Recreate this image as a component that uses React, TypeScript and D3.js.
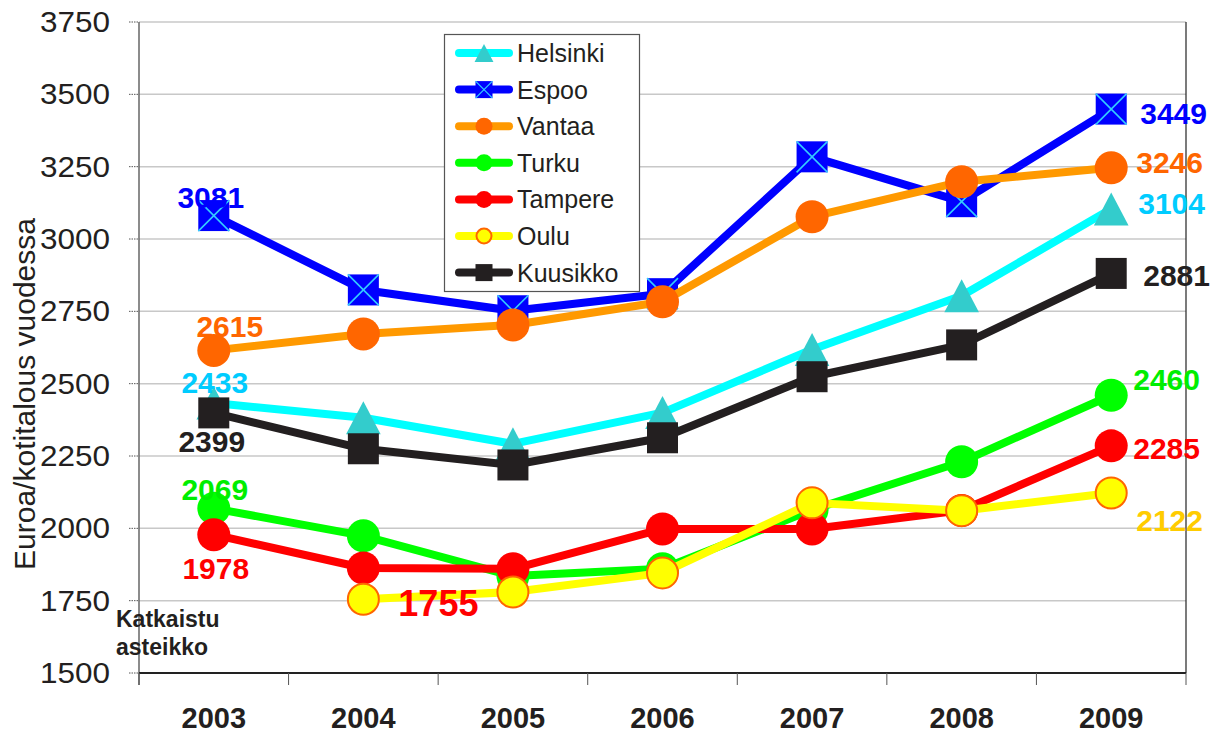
import React from 'react';
import * as d3 from 'd3';

const years = ['2003', '2004', '2005', '2006', '2007', '2008', '2009'];
const yTicks = [1500, 1750, 2000, 2250, 2500, 2750, 3000, 3250, 3500, 3750];

const helsinki = [2433, 2382, 2292, 2400, 2618, 2804, 3104];
const espoo = [3081, 2824, 2752, 2811, 3284, 3129, 3449];
const vantaa = [2615, 2672, 2703, 2783, 3077, 3198, 3246];
const turku = [2069, 1974, 1835, 1860, 2064, 2230, 2460];
const tampere = [1978, 1863, 1860, 1998, 1998, 2062, 2285];
const oulu: (number | null)[] = [null, 1755, 1780, 1846, 2088, 2061, 2122];
const kuusikko = [2399, 2275, 2219, 2313, 2524, 2634, 2881];

type Marker = 'triangle' | 'xsquare' | 'circle' | 'square' | 'ocircle';
interface Series { name: string; values: (number | null)[]; line: string; fill: string; stroke?: string; marker: Marker; label: string; }

const series: Series[] = [
  { name: 'Helsinki', values: helsinki, line: '#00ffff', fill: '#33cccc', marker: 'triangle', label: '#00ccff' },
  { name: 'Espoo', values: espoo, line: '#0000ff', fill: '#0000ff', stroke: '#33ccff', marker: 'xsquare', label: '#0000ff' },
  { name: 'Vantaa', values: vantaa, line: '#ff9900', fill: '#ff6600', marker: 'circle', label: '#ff6600' },
  { name: 'Turku', values: turku, line: '#00ff00', fill: '#00ff00', marker: 'circle', label: '#00ee00' },
  { name: 'Tampere', values: tampere, line: '#ff0000', fill: '#ff0000', marker: 'circle', label: '#ff0000' },
  { name: 'Oulu', values: oulu, line: '#ffff00', fill: '#ffff00', stroke: '#ff6600', marker: 'ocircle', label: '#ffcc00' },
  { name: 'Kuusikko', values: kuusikko, line: '#231f20', fill: '#231f20', marker: 'square', label: '#231f20' },
];

// value annotations: series index, year index, offset, anchor, size, optional colour
const annotations: { s: number; i: number; dx: number; dy: number; anchor: string; size: number; color?: string }[] = [
  { s: 1, i: 0, dx: -3, dy: -8, anchor: 'middle', size: 30 },
  { s: 2, i: 0, dx: 16, dy: -13, anchor: 'middle', size: 30 },
  { s: 0, i: 0, dx: 1, dy: -10, anchor: 'middle', size: 30 },
  { s: 6, i: 0, dx: -2, dy: 39, anchor: 'middle', size: 30 },
  { s: 3, i: 0, dx: 1, dy: -8, anchor: 'middle', size: 30 },
  { s: 4, i: 0, dx: 2, dy: 44, anchor: 'middle', size: 30 },
  { s: 5, i: 1, dx: 35, dy: 17, anchor: 'start', size: 36, color: '#ff0000' },
  { s: 1, i: 6, dx: 29, dy: 15, anchor: 'start', size: 30 },
  { s: 2, i: 6, dx: 25, dy: 5, anchor: 'start', size: 30 },
  { s: 0, i: 6, dx: 27, dy: 5, anchor: 'start', size: 30 },
  { s: 6, i: 6, dx: 32, dy: 13, anchor: 'start', size: 30 },
  { s: 3, i: 6, dx: 22, dy: -5, anchor: 'start', size: 30 },
  { s: 4, i: 6, dx: 22, dy: 13, anchor: 'start', size: 30 },
  { s: 5, i: 6, dx: 25, dy: 38, anchor: 'start', size: 30 },
];

const W = 1218, H = 733;
const left = 139, right = 1186, top = 22, bottom = 673;
const FONT = 'Liberation Sans, Arial, sans-serif';

function MarkerShape({ m, x, y, s, fill, stroke }: { m: Marker; x: number; y: number; s: number; fill: string; stroke?: string }) {
  if (m === 'triangle') {
    const h = s;
    const w = s * 1.05;
    return <polygon points={`${x},${y - h / 2} ${x + w / 2},${y + h / 2} ${x - w / 2},${y + h / 2}`} fill={fill} />;
  }
  if (m === 'square' || m === 'xsquare') {
    const h = s / 2;
    return (
      <g>
        <rect x={x - h} y={y - h} width={s} height={s} fill={fill} />
        {m === 'xsquare' && (
          <g stroke={stroke} strokeWidth={s > 20 ? 1.6 : 1.2}>
            <line x1={x - h} y1={y - h} x2={x + h} y2={y + h} />
            <line x1={x + h} y1={y - h} x2={x - h} y2={y + h} />
          </g>
        )}
      </g>
    );
  }
  if (m === 'ocircle') {
    return <circle cx={x} cy={y} r={s / 2 - 1} fill={fill} stroke={stroke} strokeWidth={2} />;
  }
  return <circle cx={x} cy={y} r={s / 2} fill={fill} />;
}

export default function App() {
  const xb = d3.scaleBand<string>().domain(years).range([left, right]).padding(0);
  const cx = (i: number) => (xb(years[i]) as number) + xb.bandwidth() / 2;
  const y = d3.scaleLinear().domain([1500, 3750]).range([bottom, top]);

  const lineGen = d3.line<number | null>()
    .defined(d => d !== null)
    .x((_, i) => cx(i))
    .y(d => y(d as number));

  const legendRows = series.map((s, i) => ({ s, y: 53 + i * 36.6 }));

  return (
    <svg width={W} height={H} style={{ position: 'absolute', left: 0, top: 0, background: '#fff' }} fontFamily={FONT}>
      <rect x={0} y={0} width={W} height={H} fill="#fff" />
      {/* gridlines */}
      {yTicks.map(t => t > 1500 && (
        <line key={'g' + t} x1={left} x2={right} y1={y(t)} y2={y(t)} stroke="#c8c8c8" strokeWidth={1.5} />
      ))}
      {/* left ticks dotted */}
      {yTicks.map(t => (
        <line key={'t' + t} x1={left - 10} x2={left} y1={y(t)} y2={y(t)} stroke="#555" strokeWidth={1} strokeDasharray="1.5,1" />
      ))}
      {/* right border */}
      <line x1={right} x2={right} y1={top} y2={bottom} stroke="#222" strokeWidth={1.2} />
      {/* left axis */}
      <line x1={left} x2={left} y1={top} y2={bottom + 12} stroke="#666" strokeWidth={1.5} />
      {/* bottom axis */}
      <line x1={left} x2={right} y1={bottom} y2={bottom} stroke="#222" strokeWidth={1.8} />
      {d3.range(years.length + 1).map(i => {
        const xx = i < years.length ? (xb(years[i]) as number) : right;
        return <line key={'xt' + i} x1={xx} x2={xx} y1={bottom} y2={bottom + 12} stroke="#555" strokeWidth={1} />;
      })}
      {/* y tick labels */}
      {yTicks.map(t => (
        <text key={'yl' + t} x={40} y={y(t) + 10} fontSize={29} fill="#231f20" textLength={70} lengthAdjust="spacingAndGlyphs">{t}</text>
      ))}
      {/* x labels */}
      {years.map((yr, i) => (
        <text key={'xl' + yr} x={cx(i)} y={728} textAnchor="middle" fontSize={29} fontWeight="bold" fill="#231f20">{yr}</text>
      ))}
      {/* y title */}
      <text transform={`translate(35,394) rotate(-90)`} textAnchor="middle" fontSize={30} fill="#231f20">Euroa/kotitalous vuodessa</text>
      {/* broken axis note */}
      <text x={116} y={627} fontSize={23} fontWeight="bold" fill="#231f20">Katkaistu</text>
      <text x={116} y={655} fontSize={23} fontWeight="bold" fill="#231f20">asteikko</text>

      {/* series */}
      {series.map(s => (
        <g key={s.name}>
          <path d={lineGen(s.values) || ''} fill="none" stroke={s.line} strokeWidth={8} strokeLinejoin="round" />
          {s.values.map((v, i) => v !== null && (
            <MarkerShape key={i} m={s.marker} x={cx(i)} y={y(v)} s={s.marker === 'triangle' ? 33 : s.marker === 'circle' || s.marker === 'ocircle' ? 33 : 31} fill={s.fill} stroke={s.stroke} />
          ))}
        </g>
      ))}

      {/* annotations */}
      {annotations.map((a, k) => {
        const s = series[a.s];
        const v = s.values[a.i] as number;
        return (
          <text key={'a' + k} x={cx(a.i) + a.dx} y={y(v) + a.dy} textAnchor={a.anchor as any} fontSize={a.size} fontWeight="bold" fill={a.color || s.label}>{v}</text>
        );
      })}

      {/* legend */}
      <g>
        <rect x={444.5} y={34.5} width={195} height={257} fill="#fff" stroke="#555" strokeWidth={1.2} />
        {legendRows.map(({ s, y: ly }) => (
          <g key={'lg' + s.name}>
            <line x1={459} x2={509} y1={ly} y2={ly} stroke={s.line} strokeWidth={8} strokeLinecap="round" />
            <MarkerShape m={s.marker} x={484} y={ly} s={s.marker === 'triangle' ? 18 : 17} fill={s.fill} stroke={s.stroke} />
            <text x={517} y={ly + 9} fontSize={25} fill="#231f20">{s.name}</text>
          </g>
        ))}
      </g>
    </svg>
  );
}
